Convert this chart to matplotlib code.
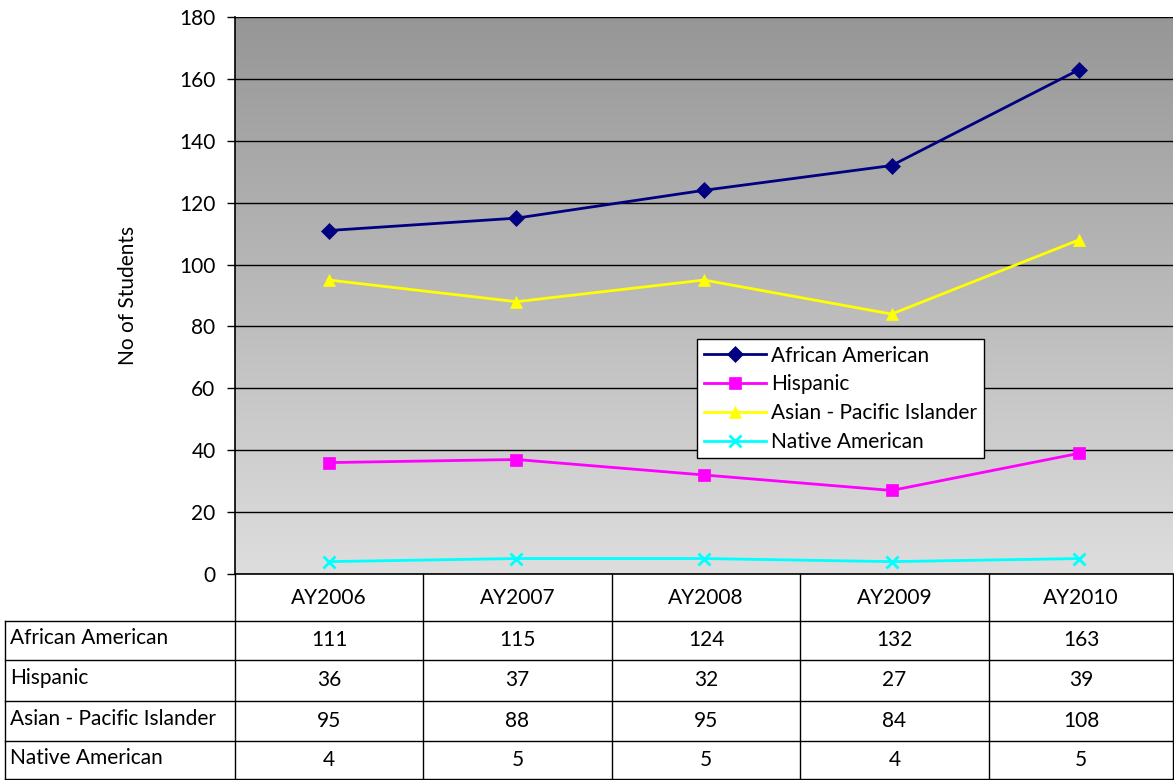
import numpy as np
import matplotlib
matplotlib.use('Agg')
import matplotlib.pyplot as plt

plt.rcParams['font.family'] = ['Lato', 'DejaVu Sans']

years = ['AY2006', 'AY2007', 'AY2008', 'AY2009', 'AY2010']
african_american = [111, 115, 124, 132, 163]
hispanic = [36, 37, 32, 27, 39]
asian_pacific = [95, 88, 95, 84, 108]
native_american = [4, 5, 5, 4, 5]

series = [
    ('African American', african_american, '#000080', 'D', 8),
    ('Hispanic', hispanic, '#ff00ff', 's', 9),
    ('Asian - Pacific Islander', asian_pacific, '#ffff00', '^', 9),
    ('Native American', native_american, '#00ffff', 'x', 9),
]

FS = 15
W, H = 1174, 780
fig = plt.figure(figsize=(W / 100, H / 100), dpi=100)

# plot area in pixel coords
px0, px1, py0, py1 = 235, 1173, 17, 574
ax = fig.add_axes([px0 / W, 1 - py1 / H, (px1 - px0) / W, (py1 - py0) / H])

x = np.arange(len(years))
ax.set_xlim(-0.5, len(years) - 0.5)
ax.set_ylim(0, 180)

# gradient background
grad = np.linspace(0, 1, 256).reshape(-1, 1)
top = np.array([0.59, 0.59, 0.59])
bot = np.array([0.87, 0.87, 0.87])
img = top + (bot - top) * grad[:, :, None] * np.ones((1, 1, 3))
ax.imshow(img, extent=[-0.5, len(years) - 0.5, 0, 180], origin='upper',
          aspect='auto', zorder=0)

ax.set_yticks(range(0, 181, 20))
ax.yaxis.grid(True, color='black', linewidth=1)
ax.set_axisbelow(False)
ax.set_xticks([])
ax.tick_params(axis='y', direction='out', length=6, width=1, labelsize=FS,
               pad=8)
for sp in ['top', 'right']:
    ax.spines[sp].set_visible(False)
ax.spines['left'].set_linewidth(1.2)
ax.spines['bottom'].set_linewidth(1.2)

for name, vals, col, mk, ms in series:
    ax.plot(x, vals, color=col, linewidth=2, marker=mk, markersize=ms,
            markeredgewidth=2 if mk == 'x' else 0.5, markeredgecolor=col,
            label=name, zorder=3)

ax.set_ylabel('No of Students', fontsize=FS, labelpad=30)

leg = ax.legend(loc='lower left', bbox_to_anchor=(0.493, 0.208), fontsize=FS,
                frameon=True, fancybox=False, borderpad=0.3, labelspacing=0.42,
                handlelength=3.0, handletextpad=0.25, borderaxespad=0)
leg.get_frame().set_edgecolor('black')
leg.get_frame().set_linewidth(1)
leg.get_frame().set_facecolor('white')
leg.get_frame().set_alpha(1)

# data table below the plot
tab = fig.add_axes([0, 0, 1, 1])
tab.set_xlim(0, W)
tab.set_ylim(H, 0)
tab.axis('off')
col_edges = [235, 423, 612, 800, 989, 1173]
row_edges = [574, 621, 660, 701, 741, 779]
lw = 1
for cx in col_edges:
    tab.plot([cx, cx], [row_edges[0], row_edges[-1]], color='black', lw=lw)
tab.plot([5, 5], [row_edges[1], row_edges[-1]], color='black', lw=lw)
for ry in row_edges[1:]:
    tab.plot([5, col_edges[-1]], [ry, ry], color='black', lw=lw)

for i, yr in enumerate(years):
    cx = (col_edges[i] + col_edges[i + 1]) / 2
    tab.text(cx, (row_edges[0] + row_edges[1]) / 2, yr, ha='center',
             va='center', fontsize=FS)
for r, (name, vals, col, mk, ms) in enumerate(series):
    cy = (row_edges[r + 1] + row_edges[r + 2]) / 2
    tab.text(10, cy - 2, name, ha='left', va='center', fontsize=FS)
    for i, v in enumerate(vals):
        cx = (col_edges[i] + col_edges[i + 1]) / 2
        tab.text(cx, cy, str(v), ha='center', va='center', fontsize=FS)

fig.savefig('out.png', dpi=100)
